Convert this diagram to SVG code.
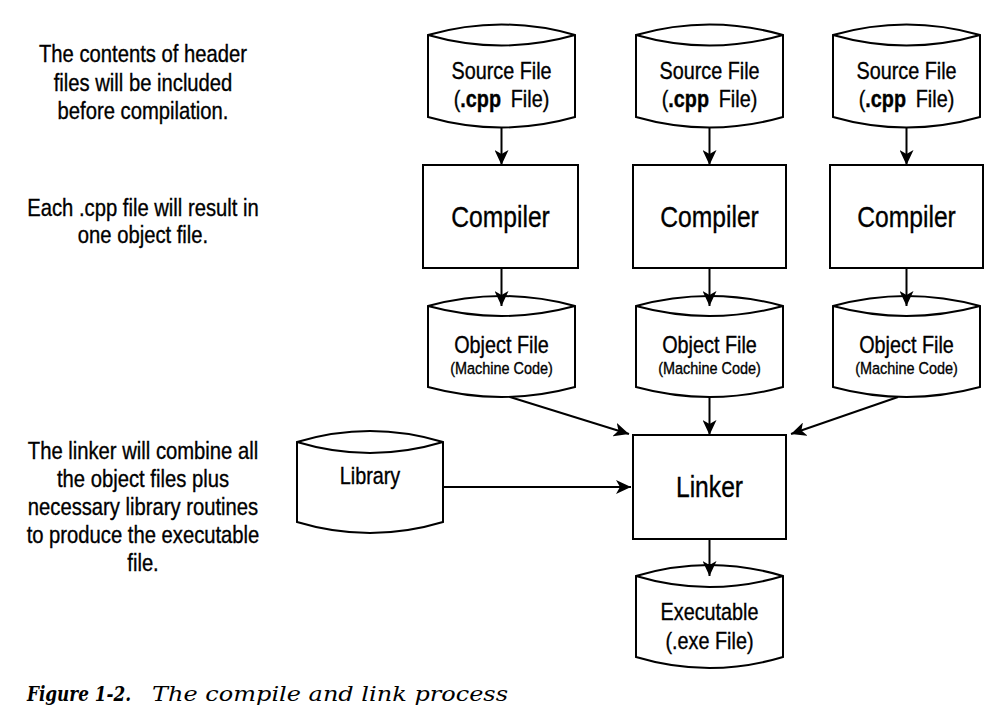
<svg xmlns="http://www.w3.org/2000/svg" width="1007" height="723" viewBox="0 0 1007 723">
<style>
.shape{fill:#fff;stroke:#000;stroke-width:2}
.lens{fill:none;stroke:#000;stroke-width:2}
.t{font-family:"Liberation Sans",Arial,sans-serif;fill:#000;stroke:#000;stroke-width:0.35;text-anchor:middle}
.f22{font-size:23.3px}
.f16{font-size:17px}
.f27{font-size:29px}
.ann{font-family:"Liberation Sans",Arial,sans-serif;font-size:23.8px;fill:#000;stroke:#000;stroke-width:0.35;text-anchor:middle}
.b{font-weight:bold}
.conn line{stroke:#000;stroke-width:2;marker-end:url(#ah)}
.cap{font-family:"DejaVu Serif","Liberation Serif",serif;font-size:20px;font-style:italic;fill:#000}
</style>
<defs>
<marker id="ah" markerUnits="userSpaceOnUse" markerWidth="16" markerHeight="14" refX="15" refY="7" orient="auto">
<path d="M0,0 L15,7 L0,14 L4,7 Z" fill="#000"/>
</marker>
</defs>
<rect width="1007" height="723" fill="#fff"/>

<g id="annotations">
<g transform="translate(143,0) scale(0.85,1)">
<text class="ann"><tspan x="0" y="62">The contents of header</tspan><tspan x="0" y="91">files will be included</tspan><tspan x="0" y="119">before compilation.</tspan></text>
<text class="ann"><tspan x="0" y="216">Each .cpp file will result in</tspan><tspan x="0" y="243">one object file.</tspan></text>
<text class="ann"><tspan x="0" y="459">The linker will combine all</tspan><tspan x="0" y="487">the object files plus</tspan><tspan x="0" y="515">necessary library routines</tspan><tspan x="0" y="543">to produce the executable</tspan><tspan x="0" y="571">file.</tspan></text>
</g>
</g>

<g id="source1">
<path class="shape" d="M428,35 Q501.5,14 575,35 L575,117 Q501.5,138 428,117 Z"/>
<path class="lens" d="M428,35 Q501.5,56 575,35"/>
<g transform="translate(501.5,0) scale(0.85,1)"><text class="t f22" x="0" y="79">Source File</text><text class="t f22" x="0" y="107">(<tspan class="b">.cpp</tspan>  <tspan dx="5">File)</tspan></text></g>
</g>
<g id="source2">
<path class="shape" d="M636,35 Q709.5,14 783,35 L783,117 Q709.5,138 636,117 Z"/>
<path class="lens" d="M636,35 Q709.5,56 783,35"/>
<g transform="translate(709.5,0) scale(0.85,1)"><text class="t f22" x="0" y="79">Source File</text><text class="t f22" x="0" y="107">(<tspan class="b">.cpp</tspan>  <tspan dx="5">File)</tspan></text></g>
</g>
<g id="source3">
<path class="shape" d="M833,35 Q906.5,14 980,35 L980,117 Q906.5,138 833,117 Z"/>
<path class="lens" d="M833,35 Q906.5,56 980,35"/>
<g transform="translate(906.5,0) scale(0.85,1)"><text class="t f22" x="0" y="79">Source File</text><text class="t f22" x="0" y="107">(<tspan class="b">.cpp</tspan>  <tspan dx="5">File)</tspan></text></g>
</g>

<g id="compiler1">
<rect class="shape" x="423" y="165" width="155" height="103"/>
<g transform="translate(500.5,0) scale(0.85,1)"><text class="t f27" x="0" y="227">Compiler</text></g>
</g>
<g id="compiler2">
<rect class="shape" x="633" y="165" width="153" height="103"/>
<g transform="translate(709.5,0) scale(0.85,1)"><text class="t f27" x="0" y="227">Compiler</text></g>
</g>
<g id="compiler3">
<rect class="shape" x="830" y="165" width="153" height="103"/>
<g transform="translate(906.5,0) scale(0.85,1)"><text class="t f27" x="0" y="227">Compiler</text></g>
</g>

<g id="object1">
<path class="shape" d="M428,306 Q501.5,286 575,306 L575,387 Q501.5,407 428,387 Z"/>
<path class="lens" d="M428,306 Q501.5,326 575,306"/>
<g transform="translate(501.5,0) scale(0.85,1)"><text class="t f22" x="0" y="353">Object File</text><text class="t f16" x="0" y="374">(Machine Code)</text></g>
</g>
<g id="object2">
<path class="shape" d="M636,306 Q709.5,286 783,306 L783,387 Q709.5,407 636,387 Z"/>
<path class="lens" d="M636,306 Q709.5,326 783,306"/>
<g transform="translate(709.5,0) scale(0.85,1)"><text class="t f22" x="0" y="353">Object File</text><text class="t f16" x="0" y="374">(Machine Code)</text></g>
</g>
<g id="object3">
<path class="shape" d="M833,306 Q906.5,286 980,306 L980,387 Q906.5,407 833,387 Z"/>
<path class="lens" d="M833,306 Q906.5,326 980,306"/>
<g transform="translate(906.5,0) scale(0.85,1)"><text class="t f22" x="0" y="353">Object File</text><text class="t f16" x="0" y="374">(Machine Code)</text></g>
</g>

<g id="library">
<path class="shape" d="M297,442 Q370,420 443,442 L443,522 Q370,544 297,522 Z"/>
<path class="lens" d="M297,442 Q370,464 443,442"/>
<g transform="translate(370,0) scale(0.85,1)"><text class="t f22" x="0" y="484">Library</text></g>
</g>

<g id="linker">
<rect class="shape" x="633" y="435" width="153" height="104"/>
<g transform="translate(709.5,0) scale(0.85,1)"><text class="t f27" x="0" y="497">Linker</text></g>
</g>

<g id="executable">
<path class="shape" d="M636,576 Q709.5,554 783,576 L783,657 Q709.5,679 636,657 Z"/>
<path class="lens" d="M636,576 Q709.5,598 783,576"/>
<g transform="translate(709.5,0) scale(0.85,1)"><text class="t f22" x="0" y="620">Executable</text><text class="t f22" x="0" y="649">(.exe File)</text></g>
</g>

<g id="connectors" class="conn">
<line x1="501.5" y1="127.5" x2="501.5" y2="165"/>
<line x1="709.5" y1="127.5" x2="709.5" y2="165"/>
<line x1="906.5" y1="127.5" x2="906.5" y2="165"/>
<line x1="501.5" y1="268" x2="501.5" y2="306"/>
<line x1="709.5" y1="268" x2="709.5" y2="306"/>
<line x1="906.5" y1="268" x2="906.5" y2="306"/>
<line x1="510" y1="397" x2="629" y2="434"/>
<line x1="709.5" y1="397" x2="709.5" y2="435"/>
<line x1="898" y1="397" x2="791" y2="434"/>
<line x1="443" y1="487" x2="631" y2="487"/>
<line x1="709.5" y1="539" x2="709.5" y2="576"/>
</g>

<g id="caption">
<text class="cap" x="27" y="701" font-weight="bold" textLength="104" lengthAdjust="spacingAndGlyphs">Figure 1-2.</text>
<text class="cap" x="152" y="701" textLength="356" lengthAdjust="spacingAndGlyphs">The compile and link process</text>
</g>
</svg>
